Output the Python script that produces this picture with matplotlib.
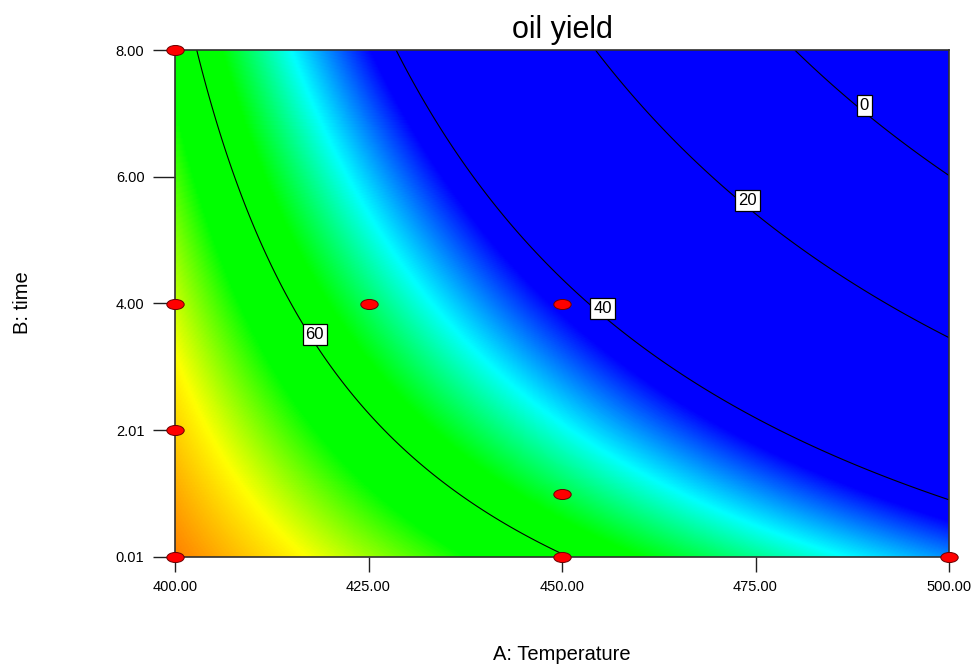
import numpy as np
import matplotlib.pyplot as plt
from matplotlib.colors import LinearSegmentedColormap
from matplotlib.path import Path
from matplotlib.transforms import Affine2D

plt.rcParams['font.family'] = ['Liberation Sans', 'DejaVu Sans']

# fitted 2FI model in coded units: yield = b0 + bA*A + bB*B + bAB*A*B
b0, bA, bB, bAB = 41.78, -26.01, -18.43, -12.82

temp_range = (400.0, 500.0)
time_range = (0.01, 8.00)

# design points (temperature, time)
pts_temp = [400, 400, 400, 400, 425, 450, 450, 450, 500]
pts_time = [8.00, 4.00, 2.01, 0.01, 4.00, 4.00, 1.00, 0.01, 0.01]

levels = [0, 20, 40, 60]
label_pos = [(489.2, 7.12), (474.2, 5.62), (455.5, 3.93), (418.1, 3.46)]

x_ticks = [400, 425, 450, 475, 500]
x_tick_labels = ['400.00', '425.00', '450.00', '475.00', '500.00']
y_ticks = [0.01, 2.0075, 4.005, 6.0025, 8.00]
y_tick_labels = ['0.01', '2.01', '4.00', '6.00', '8.00']


def oil_yield(T, t):
    a = (T - 450.0) / 50.0
    b = (t - 4.005) / 3.995
    return b0 + bA * a + bB * b + bAB * a * b


T, t = np.meshgrid(np.linspace(*temp_range, 500), np.linspace(*time_range, 500))
Z = oil_yield(T, t)

# blue -> cyan -> green -> yellow -> red ramp
vmin, vmax = 42.5, 78.0
stops = [(42.5, '#0000ff'), (50.5, '#00ffff'), (57.5, '#00ff00'), (63.5, '#00ff00'),
         (69, '#ffff00'), (78, '#ff0000')]
cmap = LinearSegmentedColormap.from_list(
    'de', [((v - vmin) / (vmax - vmin), c) for v, c in stops])

fig = plt.figure(figsize=(9.72, 6.65), dpi=100)
ax = fig.add_axes([175 / 972, 1 - 556.7 / 665, 774 / 972, 506.7 / 665])

ax.imshow(Z, origin='lower', extent=[*temp_range, *time_range], aspect='auto',
          cmap=cmap, vmin=vmin, vmax=vmax, interpolation='bilinear')
cs = ax.contour(T, t, Z, levels=levels, colors='k', linewidths=0.8)
# white boxed labels sit on top of the lines
labels = ax.clabel(cs, fmt='%d', fontsize=12, inline=False, manual=label_pos)
for lab in labels:
    lab.set_rotation(0)
    x, y = lab.get_position()
    lab.set_position((x + 0.3, y + 0.08))
    lab.set_zorder(4)
    lab.set_bbox(dict(boxstyle='square,pad=0.18', fc='white', ec='black', lw=0.9))

# elliptical markers for design points
ell = Path.unit_circle().transformed(Affine2D().scale(1.0, 0.58))
ax.plot(pts_temp, pts_time, linestyle='none', marker=ell, markersize=12.5,
        mfc='#ff0000', mec='#6a0000', mew=0.7, clip_on=False, zorder=5)

ax.set_xlim(*temp_range)
ax.set_ylim(*time_range)
ax.set_xticks(x_ticks, x_tick_labels, fontsize=10.5)
ax.set_yticks(y_ticks, y_tick_labels, fontsize=10.5)
ax.tick_params(axis='x', length=11, width=1.0, pad=6, color='#202020')
ax.tick_params(axis='y', length=16, width=1.0, pad=6, color='#202020')
for s in ax.spines.values():
    s.set_linewidth(1.2)
    s.set_color('#303030')

fig.text(562 / 972, 1 - 30 / 665, 'oil yield', fontsize=22, ha='center', va='center')
fig.text(562 / 972, 1 - 655 / 665, 'A: Temperature', fontsize=14.5, ha='center', va='center')
fig.text(22 / 972, 1 - 303 / 665, 'B: time', fontsize=14.5, ha='center', va='center',
         rotation=90)

fig.savefig('out.png', dpi=100)
